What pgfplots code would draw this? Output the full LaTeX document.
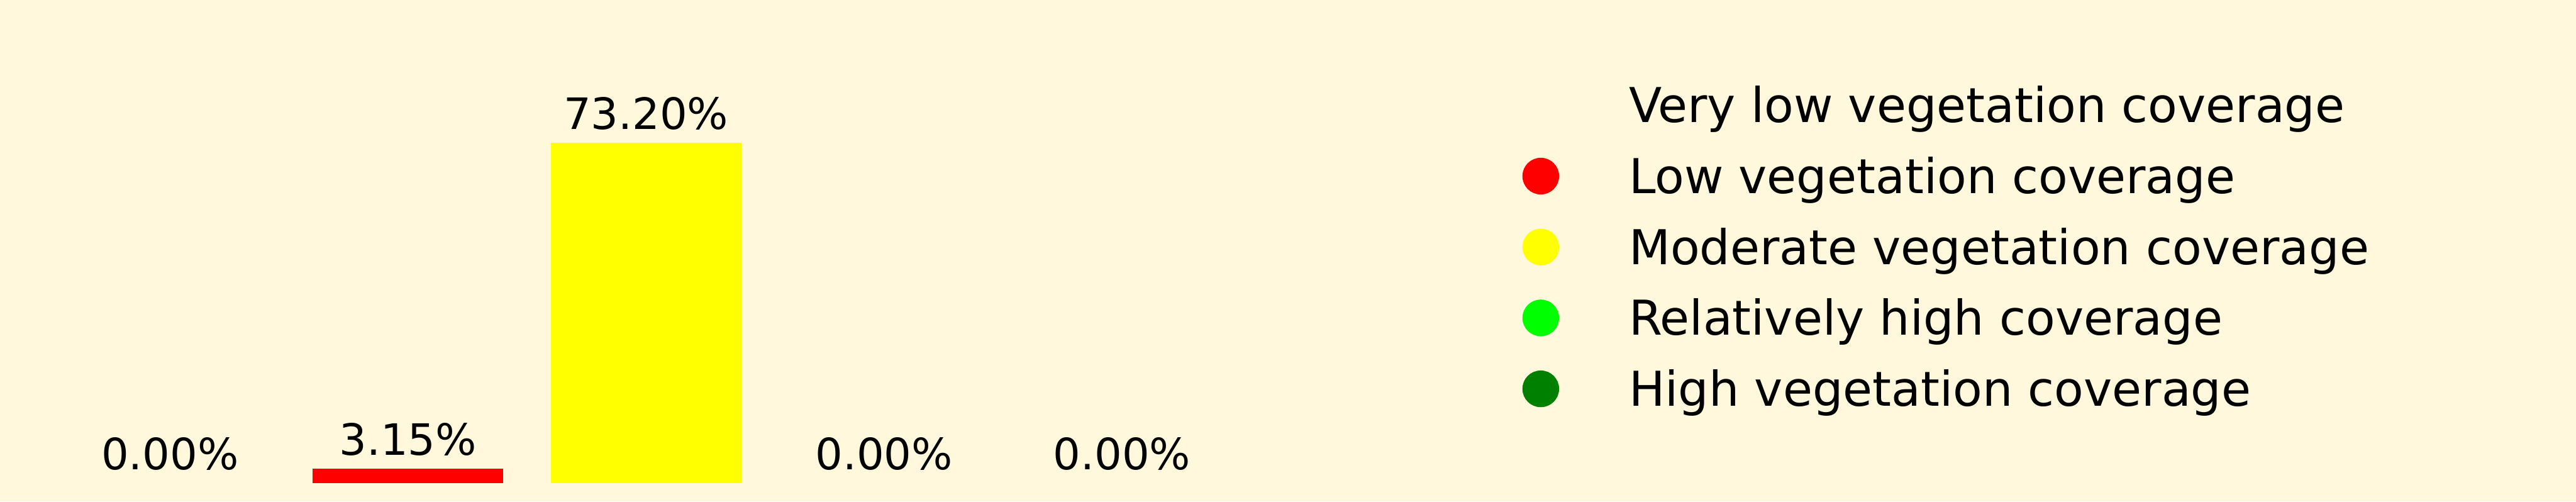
\documentclass[border=0pt]{standalone}
\usepackage{fontspec}
\setmainfont{DejaVu Sans}
\usepackage{pgfplots}
\pgfplotsset{compat=1.18}
\definecolor{bg}{HTML}{FFF8DC}
\definecolor{darkgreen}{HTML}{008000}
\definecolor{limegreen}{HTML}{00FF00}
\definecolor{pureyellow}{HTML}{FFFF00}
\definecolor{purered}{HTML}{FF0000}
\begin{document}
\begin{tikzpicture}
\begin{axis}[
  width=1072.8pt, height=208.8pt, scale only axis,
  xmin=-0.7143, xmax=10.109, ymin=-3.97, ymax=103.97,
  axis lines=none,
  axis background/.style={fill=bg},
  ybar, bar width=0.8,
  /pgf/number format/assume math mode=true,
  nodes near coords={\pgfmathprintnumber[fixed,fixed zerofill,precision=2,assume math mode=true]{\pgfplotspointmeta}\%},
  every node near coord/.append style={font=\fontsize{18}{21.6}\selectfont, text=black, yshift=1.8pt},
  legend image code/.code={\fill[#1] (0pt,7.2pt) circle[radius=7.44pt]; \path[draw=none,fill=none] (-7.44pt,0pt) -- (36.72pt,0pt);},
  legend style={at={(rel axis cs:0.5908,0.8285)}, anchor=north west, draw=none, fill=none,
    inner sep=0pt, font=\fontsize{20}{24}\selectfont, row sep=9.52pt, column sep=0pt,
    nodes={inner sep=0pt, text height=15pt, text depth=5pt}, cells={anchor=base west}},
]
\addplot[ybar, bar shift=0pt, draw=none, fill=none, forget plot] coordinates {(0,0)};
\addplot[ybar, bar shift=0pt, draw=none, fill=purered, forget plot] coordinates {(1,3.15)};
\addplot[ybar, bar shift=0pt, draw=none, fill=pureyellow, forget plot] coordinates {(2,73.20)};
\addplot[ybar, bar shift=0pt, draw=none, fill=none, forget plot] coordinates {(3,0)};
\addplot[ybar, bar shift=0pt, draw=none, fill=none, forget plot] coordinates {(4,0)};
\addlegendimage{empty legend}
\addlegendentry{Very low vegetation coverage}
\addlegendimage{purered}
\addlegendentry{Low vegetation coverage}
\addlegendimage{pureyellow}
\addlegendentry{Moderate vegetation coverage}
\addlegendimage{limegreen}
\addlegendentry{Relatively high coverage}
\addlegendimage{darkgreen}
\addlegendentry{High vegetation coverage}
\end{axis}
\end{tikzpicture}
\end{document}
